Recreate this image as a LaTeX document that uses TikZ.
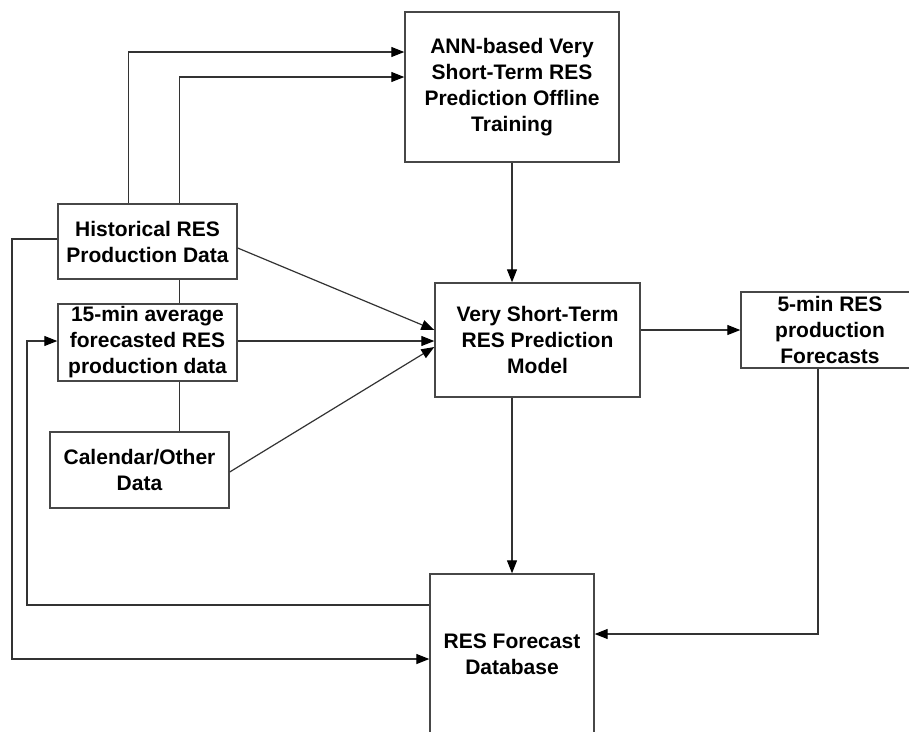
\documentclass[tikz,border=0pt]{standalone}
\usepackage{fontspec}
\setmainfont{Liberation Sans}
\usetikzlibrary{arrows.meta,calc}
\begin{document}
\begin{tikzpicture}[x=1pt,y=-1pt,
  box/.style={draw=black!72, line width=1.4pt, fill=white, align=center,
    inner sep=0pt, font=\fontsize{21}{26}\selectfont\bfseries},
  link/.style={draw=black!80, line width=1.2pt},
  arr/.style={link, -{Triangle[length=13pt,width=10pt,color=black]}},
]
% canvas
\fill[white] (0,0) rectangle (909,731);
\useasboundingbox (0,0) rectangle (909,731);

% blocks
\node[box, minimum width=214, minimum height=150] (ann) at (512,87)
  {ANN-based Very\\Short-Term RES\\Prediction Offline\\Training};
\node[box, minimum width=179, minimum height=75] (hist) at (147.5,241.5)
  {Historical RES\\Production Data};
\node[box, minimum width=179, minimum height=77] (avg) at (147.5,342.5)
  {15-min average\\forecasted RES\\production data};
\node[box, minimum width=179, minimum height=76] (cal) at (139.5,470)
  {Calendar/Other\\Data};
\node[box, minimum width=205, minimum height=114] (vst) at (537.5,340)
  {Very Short-Term\\RES Prediction\\Model};
\node[box, minimum width=178, minimum height=76] (five) at (830,330)
  {5-min RES\\production\\Forecasts};
\node[box, minimum width=164, minimum height=160] (db) at (512,654)
  {RES Forecast\\Database};

% historical data feeds the offline training
\draw[arr] ([xshift=71pt]hist.north west) |- ([yshift=35pt]ann.west);
\draw[arr] ([xshift=122pt]hist.north west) |- ([yshift=10pt]ann.west);

% input blocks chained together
\draw[link] ([xshift=122pt]hist.south west) -- ([xshift=122pt]avg.north west);
\draw[link] ([xshift=122pt]avg.south west) -- ([xshift=130pt]cal.north west);

% inputs to the prediction model
\draw[arr] ([yshift=-6.5pt]hist.east) -- ([yshift=10pt]vst.west);
\draw[arr] ([yshift=1.5pt]avg.east) -- ([yshift=1.5pt]avg.east -| vst.west);
\draw[arr] ([yshift=-2pt]cal.east) -- ([yshift=-7pt]vst.west);

% training -> model -> outputs
\draw[arr] (ann.south) -- (ann.south |- vst.north);
\draw[arr] (five.west -| vst.east) -- (five.west);
\draw[arr] (ann.south |- vst.south) -- (db.north);
\draw[arr] ([xshift=-12pt]five.south) |- ([yshift=20pt]db.east);

% archive loops around the left side
\coordinate (outer) at (12,659);
\coordinate (inner) at (27,605);
\draw[arr] ([yshift=2.5pt]hist.west) -| (outer) -- (outer -| db.west);
\draw[arr] (inner -| db.west) -- (inner) |- ([yshift=1.5pt]avg.west);
\end{tikzpicture}
\end{document}
